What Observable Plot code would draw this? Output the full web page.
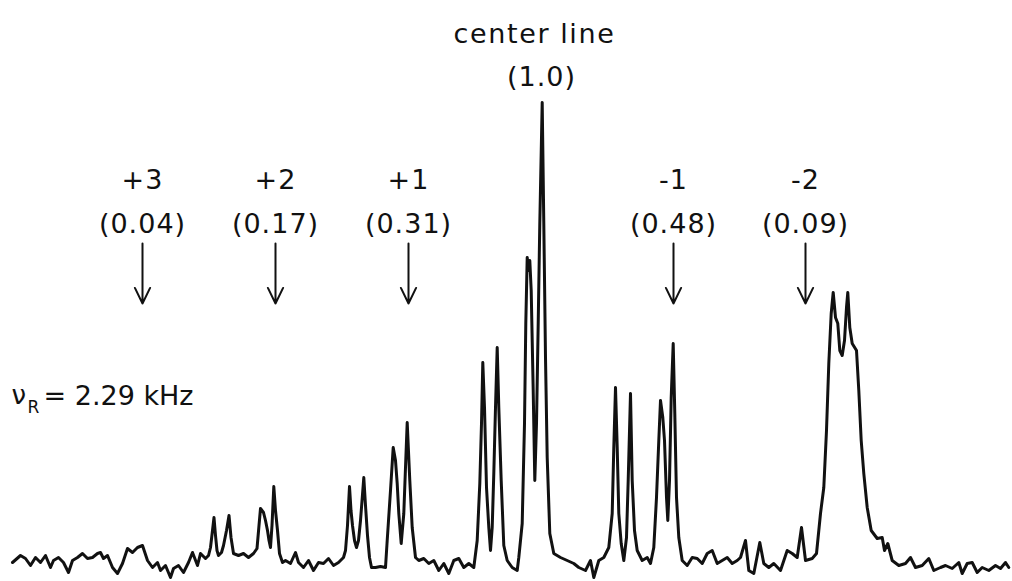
<!DOCTYPE html>
<html>
<head>
<meta charset="utf-8">
<script src="https://cdn.jsdelivr.net/npm/d3@7"></script>
<script src="https://cdn.jsdelivr.net/npm/@observablehq/plot@0.6"></script>
<style>
  html, body { margin: 0; padding: 0; background: #fff; }
  #chart svg { display: block; }
  #chart text { font-family: "DejaVu Sans", sans-serif; }
  #chart .lbl text { letter-spacing: 1px; }
  #chart .ctrlbl text { letter-spacing: 1.6px; }
</style>
</head>
<body>
<div id="chart"></div>
<script>
// Spectrum trace: [channel, intensity (arbitrary units)]
const trace = [
  [12,3],[20,10],[25,7],[30,0],[35,8],[40,3],[45,10],[50,-2],[53,5],[58,8],[63,3],[68,-7],[72,5],[77,8],[82,12],[87,7],[92,8],[97,12],[100,13],[103,7],[107,10],[112,-2],[117,-8],[122,2],[127,17],[132,13],[137,18],[142,20],[147,5],[152,-2],[157,3],[160,-5],[165,0],[170,-12],[173,-3],[178,0],[183,-7],[188,3],[192,13],[197,0],[200,12],[205,7],[208,10],[210,18],[212,35],[213.5,48],[215,30],[216.5,15],[218,10],[221,13],[223,20],[226,35],[228.5,50],[230.5,28],[233,12],[238,10],[243,12],[248,8],[253,12],[256.5,17],[258.5,40],[260,57],[261.5,55],[263,53],[265,45],[267,35],[268.5,25],[270,18],[271.5,40],[273.3,79],[275,55],[277,35],[279,12],[282,3],[285,5],[290,2],[295,13],[298,3],[303,-2],[308,5],[313,-5],[318,3],[323,2],[328,7],[333,0],[338,3],[343,8],[345,15],[347,40],[349,79],[350.5,55],[352,40],[354,25],[356,18],[358,25],[360,45],[363.3,88],[365,60],[367,30],[369,8],[371,-2],[375,-2],[380,-1],[385,-2],
  [386.7,25],[390,75],[392.7,118],[395,105],[396.7,82],[398.3,52],[400.7,22],[403.3,52],[405,98],[406.7,143],[409.3,85],[411.7,38],[415,8],[418.3,5],[423.3,7],[428.3,2],[433.3,5],[438.3,-5],[443.3,2],[448.3,-8],[453.3,5],[458.3,7],[463.3,-2],[468.3,2],[473.3,-2],[476.7,25],[479.3,82],[481,142],[482.3,203],[484,158],[486,78],[488.3,38],[490,15],[491.7,38],[493.3,92],[495,158],[496.7,218],[498.3,158],[500.7,85],[503.3,20],[506.7,5],[511.7,-2],[516.7,-5],
  [518.3,8],[521.7,42],[524,142],[525.3,242],[526.7,308],[528,295],[529.3,305],[530.7,275],[532.7,175],[534.3,85],[536,142],[537.7,242],[539.3,342],[541.7,463],[543.3,342],[545,208],[546.7,108],[549.3,32],[553.3,12],[560,8],[566.7,5],[573.3,2],[578.3,-2],
  [585,-5],[590,5],[593.3,-12],[598.3,5],[603.3,8],[608.3,18],[611.7,52],[613.3,118],[615,178],[616.7,118],[618.3,52],[620.7,22],[623.3,5],[626,28],[627.7,85],[630,172],[631.7,85],[634,35],[636.7,15],[641.7,5],[646.7,8],[650,2],[653.3,18],[656,68],[658.3,125],[660,165],[662.3,148],[664,125],[666,68],[667.3,45],[669,85],[670.7,168],[672.7,222],[674.3,152],[676,68],[678.3,28],[681.7,5],[686.7,0],[691.7,8],[696.7,7],[701.7,2],[706.7,12],[711.7,15],[716.7,2],[721.7,5],[726.7,8],[731.7,2],[736.7,5],
  [740,8],[745,25],[748.3,-5],[753.3,-8],[759.3,23],[763.3,2],[768.3,-2],[773.3,2],[780,-5],[786.7,15],[791.7,12],[796.7,8],[801,38],[805,5],[811.7,7],[816,12],[820,52],[823.3,78],[826,135],[828.3,202],[830.7,252],[832.7,273],[835,248],[837.3,242],[839.3,215],[841.7,210],[844,225],[846,258],[847.3,273],[849.3,238],[851.7,222],[856,215],[858.3,175],[860.7,125],[863.3,92],[866.7,58],[870.7,35],[876.7,27],[881.7,28],[884,15],[887.3,22],[891.7,5],[898.3,0],[905,2],[910,8],[915,-2],[921.7,0],[928.3,7],[933.3,-5],[940,-2],[945,0],[951.7,-3],[958.3,3],[961.7,-8],[966.7,2],[971.7,3],[976.7,-7],[981.7,-2],[988.3,-5],[995,0],[1000,-3],[1005,3],[1008.3,-2]
];

// Spinning sidebands
const sidebandOrder = ["+3", "+2", "+1", "-1", "-2"];
const sidebandRel = ["(0.04)", "(0.17)", "(0.31)", "(0.48)", "(0.09)"];
const sidebandX = [142, 275, 408, 673, 805];

// Center line
const centerLabel = ["center line"];
const centerRel = ["(1.0)"];
const centerX = [541];

const spinRate = "= 2.29 kHz";

const traceData = trace.map(([x, y]) => ({x, y}));
const sb = sidebandOrder.map((o, i) => ({order: o, rel: sidebandRel[i], x: sidebandX[i]}));
const ctr = centerLabel.map((c, i) => ({label: c, rel: centerRel[i], x: centerX[i]}));

const FS = 27;
const plot = Plot.plot({
  width: 1012,
  height: 581,
  marginTop: 0, marginBottom: 0, marginLeft: 0, marginRight: 0,
  x: {domain: [0, 1012], axis: null},
  y: {domain: [-16, 565], axis: null},
  style: {background: "#fff", color: "#111", fontFamily: "DejaVu Sans, sans-serif"},
  marks: [
    Plot.line(traceData, {x: "x", y: "y", stroke: "#111", strokeWidth: 3, strokeLinejoin: "round", strokeLinecap: "round", curve: "linear"}),
    Plot.arrow(sb, {x1: "x", x2: "x", y1: 322, y2: 262, stroke: "#111", strokeWidth: 2, headLength: 13, headAngle: 52}),
    Plot.text(sb, {x: "x", y: 385.6, text: "order", fontSize: FS, fill: "#111", textAnchor: "middle", className: "lbl"}),
    Plot.text(sb, {x: "x", y: 341.6, text: "rel", fontSize: FS, fill: "#111", textAnchor: "middle", className: "lbl"}),
    Plot.text(ctr, {x: "x", y: 531.6, dx: -7, text: "label", fontSize: FS, fill: "#111", textAnchor: "middle", className: "ctrlbl"}),
    Plot.text(ctr, {x: "x", y: 488.6, text: "rel", fontSize: FS, fill: "#111", textAnchor: "middle", className: "lbl"}),
    Plot.text(["ν"], {x: 11, y: 169.6, text: d => d, fontSize: 26, fill: "#111", textAnchor: "start"}),
    Plot.text(["R"], {x: 27, y: 158, text: d => d, fontSize: 17, fill: "#111", textAnchor: "start"}),
    Plot.text([spinRate], {x: 43, y: 169.6, text: d => d, fontSize: FS, fill: "#111", textAnchor: "start"})
  ]
});
document.getElementById("chart").appendChild(plot);
</script>
</body>
</html>
